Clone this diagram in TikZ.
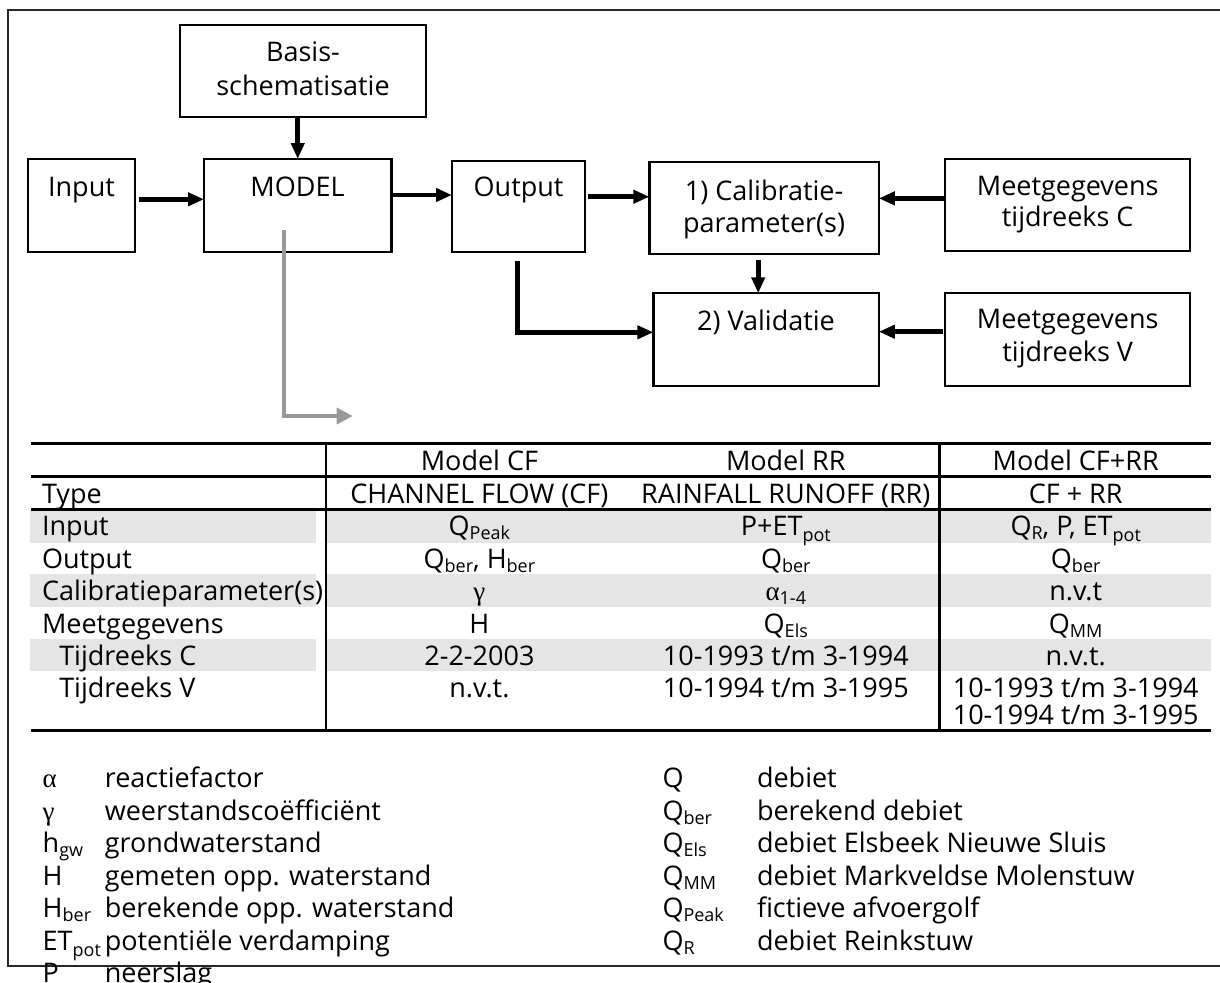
\documentclass[tikz,border=0pt]{standalone}
\usepackage{fontspec}
\setmainfont{Open Sans}
\newfontfamily\grk{Liberation Serif}
\usetikzlibrary{arrows.meta}
\newcommand{\sbs}[1]{\raisebox{-4pt}{\fontsize{18}{18}\selectfont #1}}
\newcommand{\sbp}[1]{\raisebox{-6pt}{\fontsize{18}{18}\selectfont #1}}
\begin{document}
\begin{tikzpicture}[x=1pt,y=-1pt,
  every node/.style={inner sep=0pt, outer sep=0pt},
  txt/.style={anchor=base, font=\fontsize{27}{32}\selectfont},
  ltxt/.style={anchor=base west, font=\fontsize{27}{32}\selectfont},
  box/.style={draw, line width=2.2pt, anchor=north west},
  arr/.style={line width=4.6pt, -{Triangle[length=16pt,width=13pt]}},
  garr/.style={draw=black!40, line width=3.4pt, -{Triangle[length=16pt,width=16pt]}},
  tline/.style={line width=3pt},
  vline/.style={line width=2.4pt},
  rowfill/.style={fill=black!10}
]
\useasboundingbox (0,0) rectangle (1220,982);
% outer frame
\draw[line width=2.6pt, black!85] (8,10) rectangle (1240,966);

% boxes
\node[box, minimum width=246pt, minimum height=92pt] (basis) at (180,25) {};
\node[box, minimum width=107pt, minimum height=93pt] (inp) at (28,159) {};
\node[box, minimum width=187.5pt, minimum height=93pt] (model) at (204,159) {};
\node[box, minimum width=133.3pt, minimum height=91.3pt] (out) at (452,160.7) {};
\node[box, minimum width=229.4pt, minimum height=91.7pt] (cal) at (649.4,162.3) {};
\node[box, minimum width=245pt, minimum height=91.7pt] (meetc) at (945.2,159) {};
\node[box, minimum width=225.4pt, minimum height=92.4pt] (val) at (653.4,293.3) {};
\node[box, minimum width=245pt, minimum height=92.4pt] (meetv) at (945.2,293.3) {};

% box texts
\node[txt] (basisT1) at (303,61.7) {Basis-};
\node[txt] (basisT2) at (303,95) {schematisatie};
\node[txt] (inpT) at (81.5,196) {Input};
\node[txt] (modelT) at (297.5,196) {MODEL};
\node[txt] (outT) at (518.6,196) {Output};
\node[txt] (calT1) at (764.1,200) {1) Calibratie-};
\node[txt] (calT2) at (764.1,232) {parameter(s)};
\node[txt] (meetcT1) at (1067.7,195) {Meetgegevens};
\node[txt] (meetcT2) at (1067.7,226.7) {tijdreeks C};
\node[txt] (valT) at (766,330) {2) Validatie};
\node[txt] (meetvT1) at (1067.7,328.3) {Meetgegevens};
\node[txt] (meetvT2) at (1067.7,361.7) {tijdreeks V};

% connectors
\draw[arr] (basis.south -| model.north) -- (model.north);
\coordinate (a1) at ([yshift=6.2pt]inp.east);
\draw[arr, shorten <=4pt] (a1) -- (a1 -| model.west);
\coordinate (a2) at ([yshift=10.5pt]model.east);
\draw[arr] (a2) -- (a2 -| out.west);
\coordinate (a3) at ([yshift=9.6pt]out.east);
\draw[arr, shorten <=3pt] (a3) -- (a3 -| cal.west);
\coordinate (a4) at ([yshift=6.5pt]meetc.west);
\draw[arr] (a4) -- (a4 -| cal.east);
\coordinate (a5) at ([xshift=-5.9pt]cal.south);
\draw[arr, shorten <=6pt] (a5) -- (a5 |- val.north);
\coordinate (a6) at ([xshift=-1.3pt]out.south);
\coordinate (a6e) at ([yshift=7.2pt]val.west);
\draw[arr, shorten <=8.7pt] (a6) |- (a6e);
\coordinate (a7) at ([yshift=7.8pt]meetv.west);
\draw[arr, shorten <=2pt] (a7) -- (a7 -| val.east);
\coordinate (g1) at ([xshift=-13.75pt,yshift=22pt]model.south);
\coordinate (grayend) at (352.7,416);
\draw[garr] (g1) |- (grayend);

% table shading
\foreach \ya/\yb in {509.3/542.7, 574.3/606.7, 639.3/670.7}{
  \fill[rowfill] (30,\ya) rectangle (316,\yb);
  \fill[rowfill] (327,\ya) rectangle (1211,\yb);
}
% table lines
\draw[tline] (31,443) -- (1211,443);
\draw[tline] (31,476.7) -- (1211,476.7);
\draw[tline] (31,509.3) -- (1211,509.3);
\draw[tline] (31,730) -- (1211,730);
\draw[vline] (326,443) -- (326,730);
\draw[vline] (939.3,443) -- (939.3,730);

% table text
\node[txt] (h1) at (479.4,470.5) {Model CF};
\node[txt] (h2) at (785.8,470.5) {Model RR};
\node[txt] (h3) at (1075.7,470.5) {Model CF+RR};

\node[ltxt] (r1) at (42,503.3) {Type};
\node[txt] (r1a) at (479.4,503.3) {CHANNEL FLOW (CF)};
\node[txt] (r1b) at (785.8,503.3) {RAINFALL RUNOFF (RR)};
\node[txt] (r1c) at (1075.7,503.3) {CF + RR};

\node[ltxt] (r2) at (42,535.8) {Input};
\node[txt] (r2a) at (479.4,535.8) {Q\sbs{Peak}};
\node[txt] (r2b) at (785.8,535.8) {P+ET\sbp{pot}};
\node[txt] (r2c) at (1075.7,535.8) {Q\sbs{R}, P, ET\sbp{pot}};

\node[ltxt] (r3) at (42,568.3) {Output};
\node[txt] (r3a) at (479.4,568.3) {Q\sbs{ber}, H\sbs{ber}};
\node[txt] (r3b) at (785.8,568.3) {Q\sbs{ber}};
\node[txt] (r3c) at (1075.7,568.3) {Q\sbs{ber}};

\node[ltxt] (r4) at (42,600.8) {Calibratieparameter(s)};
\node[txt] (r4a) at (479.4,600.8) {{\grk γ}};
\node[txt] (r4b) at (785.8,600.8) {{\grk α}\sbs{1-4}};
\node[txt] (r4c) at (1075.7,600.8) {n.v.t};

\node[ltxt] (r5) at (42,633.3) {Meetgegevens};
\node[txt] (r5a) at (479.4,633.3) {H};
\node[txt] (r5b) at (785.8,633.3) {Q\sbs{Els}};
\node[txt] (r5c) at (1075.7,633.3) {Q\sbs{MM}};

\node[ltxt] (r6) at (59.3,665.8) {Tijdreeks C};
\node[txt] (r6a) at (479.4,665.8) {2-2-2003};
\node[txt] (r6b) at (785.8,665.8) {10-1993 t/m 3-1994};
\node[txt] (r6c) at (1075.7,665.8) {n.v.t.};

\node[ltxt] (r7) at (59.3,697) {Tijdreeks V};
\node[txt] (r7a) at (479.4,697) {n.v.t.};
\node[txt] (r7b) at (785.8,697) {10-1994 t/m 3-1995};
\node[txt] (r7c) at (1075.7,697) {10-1993 t/m 3-1994};
\node[txt] (r7d) at (1075.7,724.5) {10-1994 t/m 3-1995};

% legend left
\node[ltxt] (ls1) at (42.7,787.5) {{\grk α}};
\node[ltxt] (ld1) at (104.8,787.5) {reactiefactor};
\node[ltxt] (ls2) at (42.7,820) {{\grk γ}};
\node[ltxt] (ld2) at (104.8,820) {weerstandscoëfficiënt};
\node[ltxt] (ls3) at (42.7,852.5) {h\sbs{gw}};
\node[ltxt] (ld3) at (104.8,852.5) {grondwaterstand};
\node[ltxt] (ls4) at (42.7,885) {H};
\node[ltxt] (ld4) at (104.8,885) {gemeten opp. waterstand};
\node[ltxt] (ls5) at (42.7,917.5) {H\sbs{ber}};
\node[ltxt] (ld5) at (104.8,917.5) {berekende opp. waterstand};
\node[ltxt] (ls6) at (42.7,950) {ET\sbp{pot}};
\node[ltxt] (ld6) at (104.8,950) {potentiële verdamping};
\node[ltxt] (ls7) at (42.7,982.5) {P};
\node[ltxt] (ld7) at (104.8,982.5) {neerslag};

% legend right
\node[ltxt] (rs1) at (662.5,787.5) {Q};
\node[ltxt] (rd1) at (757,787.5) {debiet};
\node[ltxt] (rs2) at (662.5,820) {Q\sbs{ber}};
\node[ltxt] (rd2) at (757,820) {berekend debiet};
\node[ltxt] (rs3) at (662.5,852.5) {Q\sbs{Els}};
\node[ltxt] (rd3) at (757,852.5) {debiet Elsbeek Nieuwe Sluis};
\node[ltxt] (rs4) at (662.5,885) {Q\sbs{MM}};
\node[ltxt] (rd4) at (757,885) {debiet Markveldse Molenstuw};
\node[ltxt] (rs5) at (662.5,917.5) {Q\sbs{Peak}};
\node[ltxt] (rd5) at (757,917.5) {fictieve afvoergolf};
\node[ltxt] (rs6) at (662.5,950) {Q\sbs{R}};
\node[ltxt] (rd6) at (757,950) {debiet Reinkstuw};
\end{tikzpicture}
\end{document}
